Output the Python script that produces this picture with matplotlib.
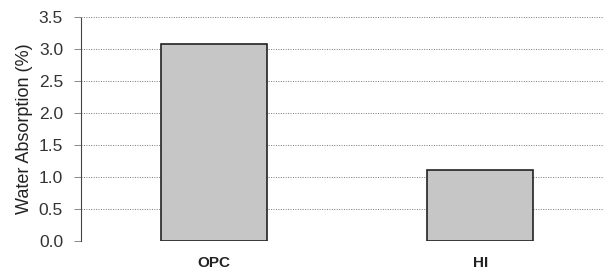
import matplotlib.pyplot as plt

plt.rcParams["font.family"] = ["Liberation Sans", "DejaVu Sans"]

categories = ["OPC", "HI"]
absorption = [3.08, 1.11]
y_ticks = [0.0, 0.5, 1.0, 1.5, 2.0, 2.5, 3.0, 3.5]

fig = plt.figure(figsize=(6.05, 2.75), dpi=100)
ax = fig.add_axes([0.134, 0.124, 0.863, 0.814])

ax.set_axisbelow(True)
ax.yaxis.grid(True, linestyle=(0, (1, 1.5)), color="#777777", linewidth=0.7)

x = range(len(categories))
ax.bar(x, absorption, width=0.40, color="#c6c6c6", edgecolor="#222222", linewidth=1.2)

ax.set_xlim(-0.5, 1.462)
ax.set_ylim(0, 3.5)
ax.set_yticks(y_ticks)
ax.set_yticklabels([f"{t:.1f}" for t in y_ticks], fontsize=12.5, color="#333333")
ax.set_xticks(list(x))
ax.set_xticklabels(categories, fontsize=11, fontweight="bold", color="#222222")
ax.tick_params(axis="x", length=0, pad=11)
ax.tick_params(axis="y", length=5, width=0.7, color="#888888", pad=8)

ax.set_ylabel("Water Absorption (%)", fontsize=13, color="#222222", labelpad=4)

for side in ["top", "right", "bottom"]:
    ax.spines[side].set_visible(False)
ax.spines["left"].set_linestyle((0, (1, 1)))
ax.spines["left"].set_color("#444444")
ax.spines["left"].set_linewidth(0.8)

fig.savefig("out.png", dpi=100)
